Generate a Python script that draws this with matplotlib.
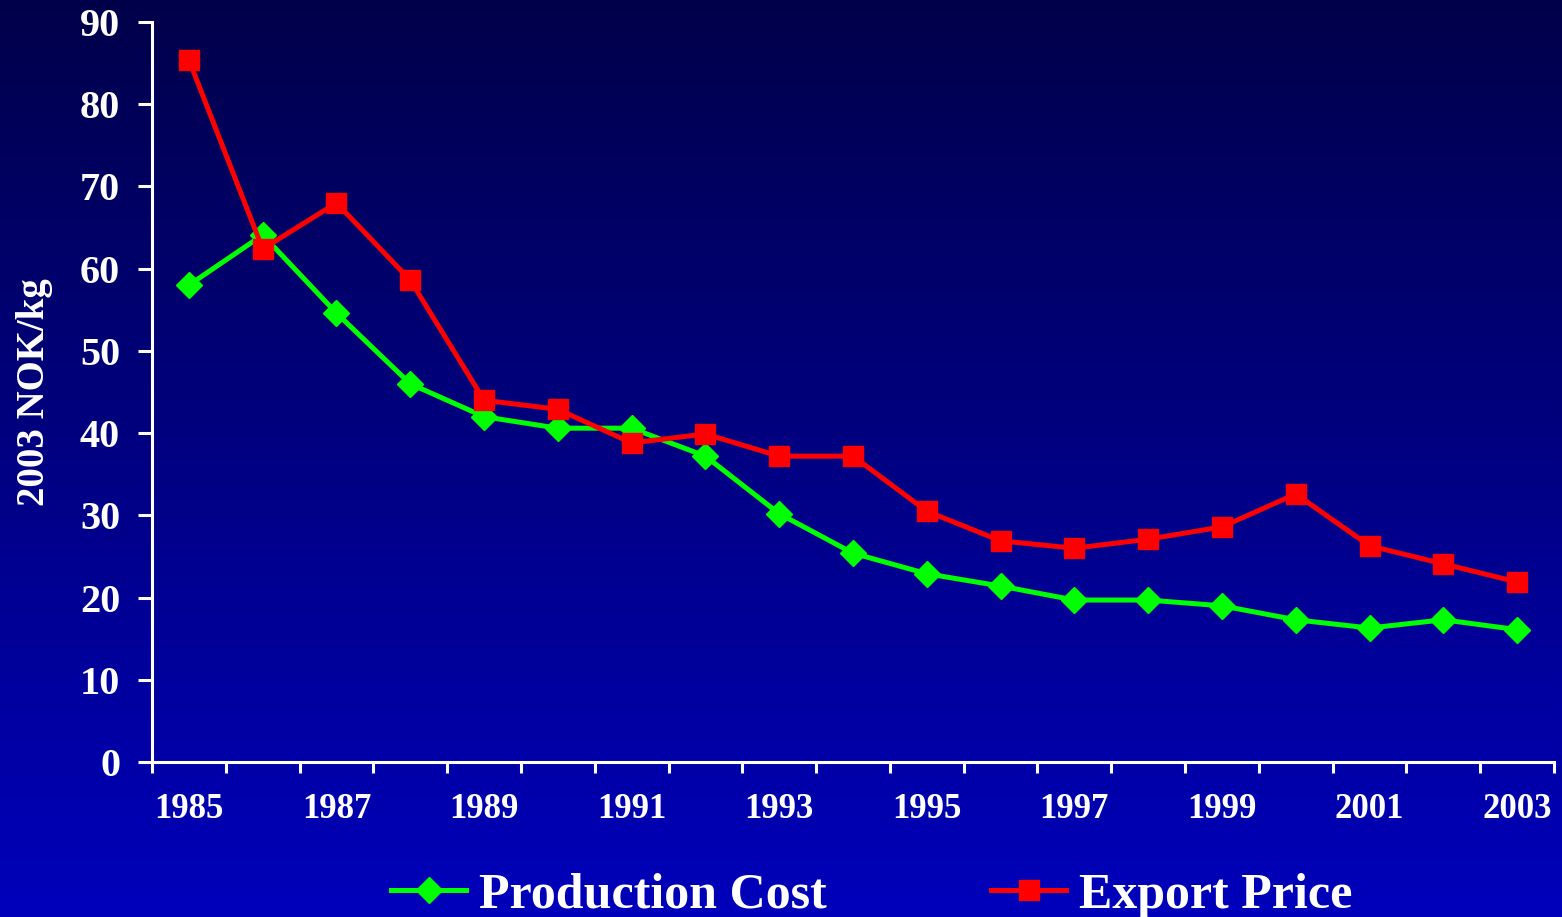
import numpy as np
import matplotlib
matplotlib.use("Agg")
import matplotlib.pyplot as plt
from matplotlib.colors import LinearSegmentedColormap

# real NOK/kg (2003 prices)
years = list(range(1985, 2004))
production_cost = [58.0, 64.1, 54.6, 46.0, 42.0, 40.6, 40.6, 37.2, 30.2, 25.4,
                   22.9, 21.4, 19.7, 19.7, 19.0, 17.3, 16.3, 17.3, 16.1]
export_price = [85.4, 62.4, 68.0, 58.6, 44.0, 42.9, 38.8, 39.9, 37.2, 37.2,
                30.5, 26.9, 26.0, 27.1, 28.6, 32.6, 26.3, 24.1, 21.9]
y_ticks = list(range(0, 100, 10))

plt.rcParams["font.family"] = ["Liberation Serif", "DejaVu Serif"]
plt.rcParams["font.weight"] = "bold"

fig = plt.figure(figsize=(15.62, 9.17), dpi=100)

# navy-to-blue slide background
bg = fig.add_axes([0, 0, 1, 1], zorder=0)
cmap = LinearSegmentedColormap.from_list("slide", ["#00004a", "#0000bb"])
bg.imshow(np.linspace(0, 1, 256).reshape(-1, 1), aspect="auto", cmap=cmap,
          extent=[0, 1, 0, 1])
bg.set_axis_off()

ax = fig.add_axes([0.0973, 0.169, 0.8976, 0.807], zorder=1)
ax.patch.set_alpha(0)

x = np.arange(len(years))
ax.plot(x, production_cost, color="#00ff00", lw=3.6, marker="D", ms=13,
        mec="#00ff00", label="Production Cost", clip_on=False)
ax.plot(x, export_price, color="#ff0000", lw=3.6, marker="s", ms=14,
        mec="#ff0000", label="Export Price", clip_on=False)

ax.set_xlim(-0.5, len(years) - 0.5)
ax.set_ylim(0, 90)

for side in ("top", "right"):
    ax.spines[side].set_visible(False)
for side in ("left", "bottom"):
    ax.spines[side].set_color("white")
    ax.spines[side].set_linewidth(2.2)

ax.set_yticks(y_ticks)
ax.tick_params(axis="y", colors="white", length=10, width=2.2, pad=13,
               labelsize=29)

# category boundaries get the ticks, every second year gets a label
ax.set_xticks(np.arange(-0.5, len(years)), labels=[])
ax.tick_params(axis="x", which="major", colors="white", length=8, width=2.2)
ax.set_xticks(x[::2], labels=[str(y) for y in years[::2]], minor=True)
ax.tick_params(axis="x", which="minor", length=0, pad=22, labelsize=25,
               labelcolor="white")

ax.set_ylabel("2003 NOK/kg", color="white", fontsize=28, fontweight="bold",
              labelpad=19)

leg = fig.legend(loc="center", bbox_to_anchor=(0.558, 0.023), ncol=2,
                 frameon=False, fontsize=36, handlelength=1.5,
                 handletextpad=0.25, columnspacing=3.3, labelcolor="white")

fig.savefig("out.png", dpi=100)
